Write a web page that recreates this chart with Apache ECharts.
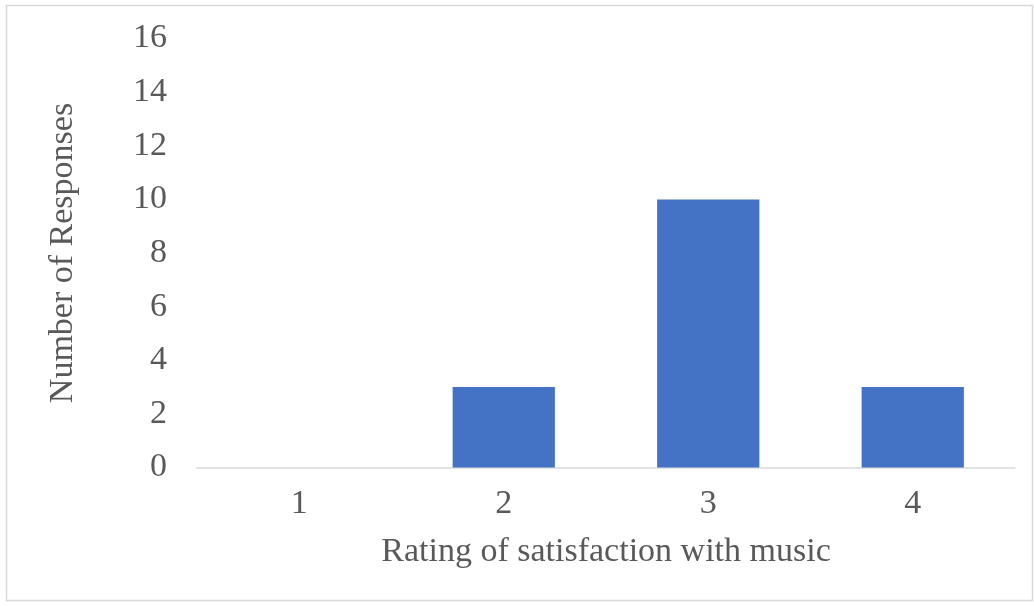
<!DOCTYPE html>
<html>
<head>
<meta charset="utf-8">
<script src="https://cdn.jsdelivr.net/npm/echarts@6/dist/echarts.min.js"></script>
<style>
html,body{margin:0;padding:0;background:#fff;}
#chart{width:1034px;height:606px;}
</style>
</head>
<body>
<div id="chart"></div>
<script>
const categories = ['1', '2', '3', '4'];
const responses = [0, 3, 10, 3];
const yMin = 0, yMax = 16, yInterval = 2;
const xTitle = 'Rating of satisfaction with music';
const yTitle = 'Number of Responses';

const font = '"Liberation Serif", "Times New Roman", serif';
const chart = echarts.init(document.getElementById('chart'), null, {renderer: 'canvas'});
chart.setOption({
  backgroundColor: '#ffffff',
  animation: false,
  graphic: [{
    type: 'rect',
    shape: {x: 6.5, y: 5.5, width: 1026, height: 595},
    style: {fill: 'none', stroke: '#d9d9d9', lineWidth: 1.5},
    silent: true
  }],
  grid: {left: 197, right: 19, top: 38.5, bottom: 138.5},
  xAxis: {
    type: 'category',
    data: categories,
    name: xTitle,
    nameLocation: 'middle',
    nameGap: 68,
    nameTextStyle: {fontFamily: font, fontSize: 34, color: '#595959'},
    axisLine: {lineStyle: {color: '#d9d9d9', width: 1.5}},
    axisTick: {show: false},
    axisLabel: {fontFamily: font, fontSize: 34, color: '#595959', margin: 20}
  },
  yAxis: {
    type: 'value',
    min: yMin, max: yMax, interval: yInterval,
    name: yTitle,
    nameLocation: 'middle',
    nameGap: 117,
    nameRotate: 90,
    nameTextStyle: {fontFamily: font, fontSize: 34, color: '#595959'},
    axisLine: {show: false},
    axisTick: {show: false},
    splitLine: {show: false},
    axisLabel: {fontFamily: font, fontSize: 34, color: '#595959', margin: 30}
  },
  series: [{
    type: 'bar',
    data: responses,
    barCategoryGap: '50%',
    itemStyle: {color: '#4472C4'}
  }]
});
</script>
</body>
</html>
